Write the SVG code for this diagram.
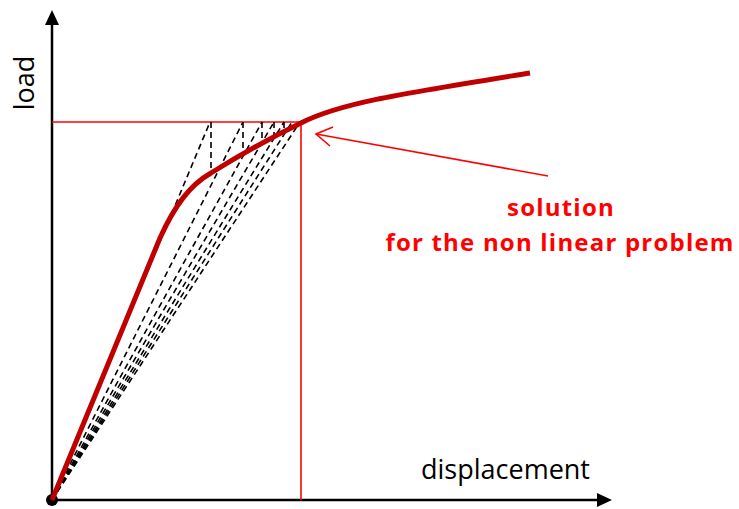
<svg xmlns="http://www.w3.org/2000/svg" width="739" height="509" viewBox="0 0 739 509">
<style>
.ax{stroke:#000;stroke-width:2.5;fill:none}
.dash{stroke:#000;stroke-width:1.6;fill:none;stroke-dasharray:6 4}
.red{stroke:#ff0000;stroke-width:1.6;fill:none}
.curve{stroke:#c00000;stroke-width:5;fill:none;stroke-linecap:butt;stroke-linejoin:round}
.lbl{font-family:"Open Sans","Liberation Sans",sans-serif;font-size:27px;fill:#000}
.rl{font-family:"Open Sans","Liberation Sans",sans-serif;font-size:24px;font-weight:bold;fill:#ff0000;text-anchor:middle;letter-spacing:1.2px}
</style>
<rect width="739" height="509" fill="#fff"/>
<g id="axes">
<line class="ax" x1="52" y1="500" x2="52" y2="24"/>
<polygon points="52,10 45,25 59,25" fill="#000"/>
<line class="ax" x1="52" y1="500" x2="598" y2="500"/>
<polygon points="612,500 597,493 597,507" fill="#000"/>
<circle cx="52" cy="500" r="6" fill="#000"/>
</g>
<g id="labels">
<text class="lbl" transform="translate(34,83) rotate(-90)" text-anchor="middle">load</text>
<text class="lbl" x="421" y="479">displacement</text>
</g>
<g id="guides">
<line class="red" x1="52" y1="122" x2="301" y2="122"/>
<line class="red" x1="301" y1="122" x2="301" y2="500"/>
</g>
<g id="connectors">
<line class="dash" x1="52" y1="500" x2="210" y2="122"/>
<line class="dash" x1="52" y1="500" x2="243" y2="122"/>
<line class="dash" x1="52" y1="500" x2="262" y2="122"/>
<line class="dash" x1="52" y1="500" x2="274" y2="122"/>
<line class="dash" x1="52" y1="500" x2="284" y2="122"/>
<line class="dash" x1="52" y1="500" x2="292" y2="122"/>
<line class="dash" x1="52" y1="500" x2="300" y2="122"/>
<line class="dash" x1="211" y1="122" x2="211" y2="173"/>
<line class="dash" x1="243" y1="122" x2="243" y2="154"/>
<line class="dash" x1="262" y1="122" x2="262" y2="144"/>
<line class="dash" x1="274" y1="122" x2="274" y2="138"/>
<line class="dash" x1="284" y1="122" x2="284" y2="132"/>
</g>
<g id="curve">
<path class="curve" d="M52,500 L160,238 C175,205 190,185 211,173 C240,155 270,138 301,123 C340,103 400,94 530,73"/>
</g>
<g id="annotation">
<line class="red" x1="548" y1="176" x2="316" y2="134"/>
<polyline class="red" points="333,127 316,134 330,146"/>
<text class="rl" x="561" y="216">solution</text>
<text class="rl" x="560" y="251">for the non linear problem</text>
</g>
</svg>
